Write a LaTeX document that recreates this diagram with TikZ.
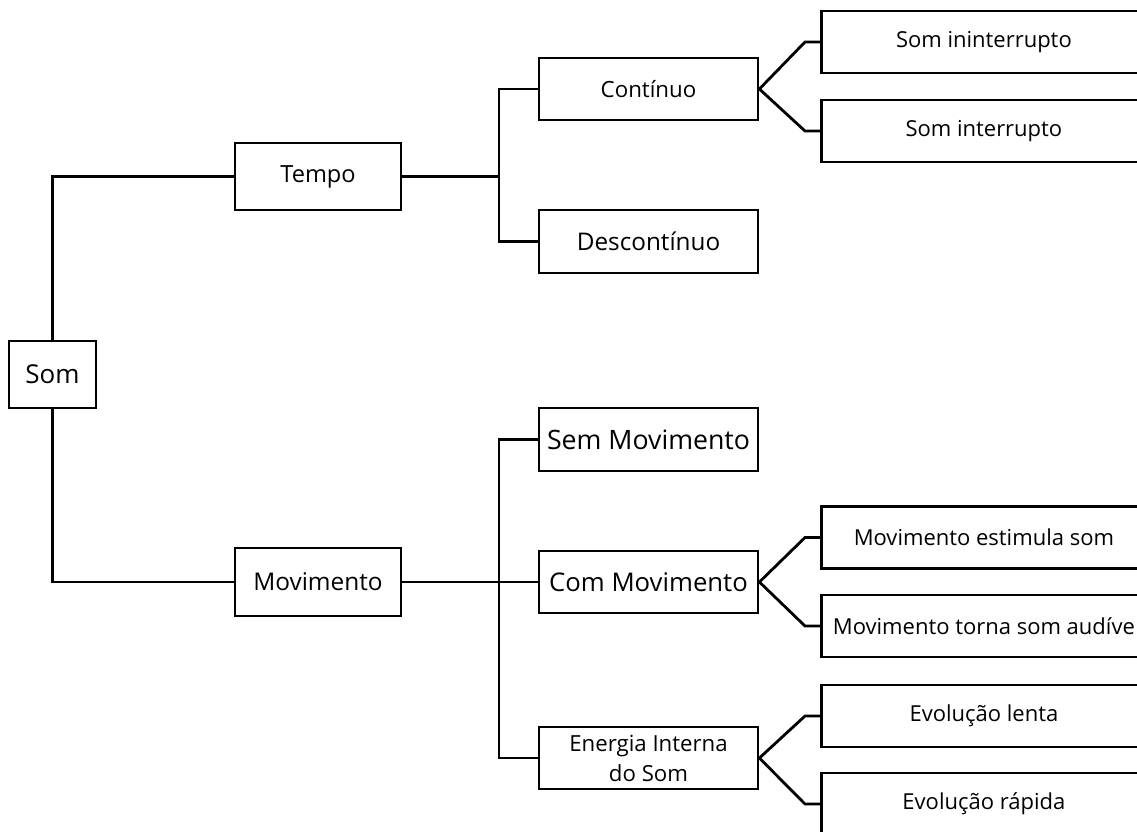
\documentclass[tikz,border=0pt]{standalone}
\usepackage{fontspec}
\setmainfont{Open Sans}
\usetikzlibrary{calc}
\tikzset{
  box/.style={draw=black, line width=2.8pt, inner sep=0pt, fill=white, align=center},
  fs/.style={font=\fontsize{#1}{30}\selectfont},
  conn/.style={draw=black, line width=2.8pt},
  leaf/.style={box, anchor=west, minimum width=325pt, minimum height=62pt, fs=22}
}
\begin{document}
\begin{tikzpicture}[x=1pt, y=-1pt]
\useasboundingbox (0,0) rectangle (1137,831);
\clip (0,0) rectangle (1137,831);
\fill[white] (0,0) rectangle (1137,831);

% main nodes
\node[box, minimum width=87pt, minimum height=67pt, fs=26] (som) at (52.5,374.5) {Som};
\node[box, minimum width=166pt, minimum height=67pt, fs=23.6] (tempo) at (318,176.5) {Tempo};
\node[box, minimum width=166pt, minimum height=68pt, fs=24.4] (mov) at (318,582) {Movimento};

\node[box, minimum width=219pt, minimum height=62pt, fs=22.3] (cont) at (648.5,89) {Contínuo};
\node[box, minimum width=219pt, minimum height=63pt, fs=24.3] (desc) at (648.5,241.5) {Descontínuo};
\node[box, minimum width=219pt, minimum height=63pt, fs=26.7] (sem) at (648.5,439.5) {Sem Movimento};
\node[box, minimum width=219pt, minimum height=62pt, fs=25.7] (com) at (648.5,582) {Com Movimento};
\node[box, minimum width=219pt, minimum height=62pt, fs=22.2] (ener) at (648.5,758) {Energia Interna\\do Som};

% leaves
\node[leaf] (r1) at (820,42) {Som ininterrupto};
\node[leaf] (r2) at (820,131) {Som interrupto};
\node[leaf] (r3) at (820,537.5) {Movimento estimula som};
\node[leaf] (r4) at (820,626) {Movimento torna som audíve};
\node[leaf] (r5) at (820,716) {Evolução lenta};
\node[leaf] (r6) at (820,804) {Evolução rápida};

% junctions
\coordinate (j1) at (499,176.5);
\coordinate (j2) at (499,582);

% connectors
\draw[conn] (som.north) |- (tempo.west);
\draw[conn] (som.south) |- (mov.west);

\draw[conn] (tempo.east) -- (j1);
\draw[conn] (j1) |- (cont.west);
\draw[conn] (j1) |- (desc.west);

\draw[conn] (mov.east) -- (com.west);
\draw[conn] (j2) |- (sem.west);
\draw[conn] (j2) |- (ener.west);

\draw[conn] (cont.east) -- ($(r1.west)+(-15,0)$) -- (r1.west);
\draw[conn] (cont.east) -- ($(r2.west)+(-15,0)$) -- (r2.west);
\draw[conn] (com.east) -- ($(r3.west)+(-15,0)$) -- (r3.west);
\draw[conn] (com.east) -- ($(r4.west)+(-15,0)$) -- (r4.west);
\draw[conn] (ener.east) -- ($(r5.west)+(-15,0)$) -- (r5.west);
\draw[conn] (ener.east) -- ($(r6.west)+(-15,0)$) -- (r6.west);
\end{tikzpicture}
\end{document}
